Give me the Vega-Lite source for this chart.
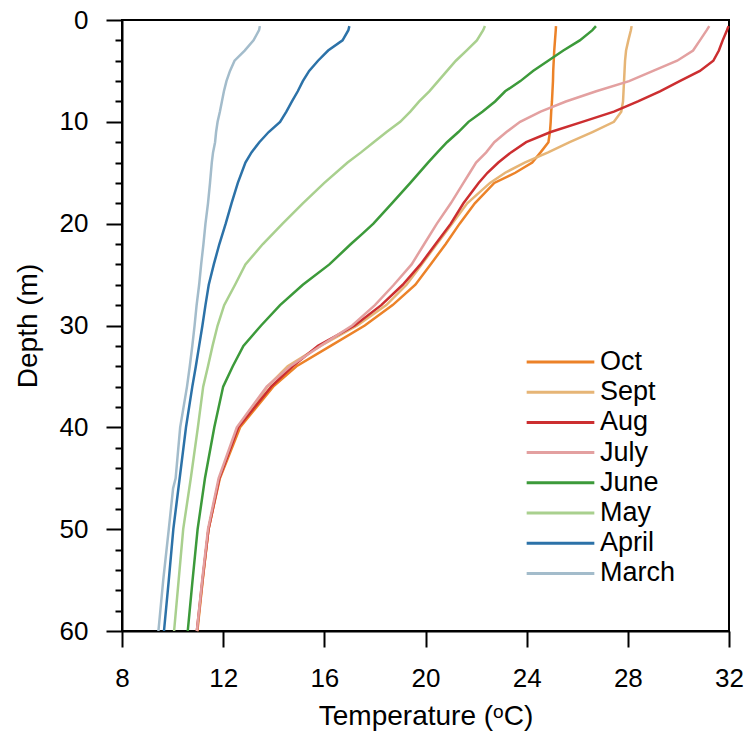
{
  "$schema": "https://vega.github.io/schema/vega-lite/v6.json",
  "width": 607,
  "height": 611,
  "autosize": "none",
  "padding": {"left": 122, "top": 20, "right": 22, "bottom": 104},
  "background": "white",
  "config": {
    "font": "Liberation Sans",
    "view": {"stroke": "#000", "strokeWidth": 2},
    "axis": {
      "domainColor": "#000", "domainWidth": 2, "tickColor": "#000", "tickWidth": 2,
      "labelColor": "#000", "titleColor": "#000", "labelFontSize": 26, "titleFontSize": 28,
      "titleFontWeight": "normal", "grid": false, "labelFlush": false, "labelOverlap": false
    },
    "legend": {
      "orient": "none", "legendX": 403, "legendY": 327, "symbolType": "stroke",
      "symbolSize": 4580, "symbolStrokeWidth": 3, "labelFontSize": 27, "labelColor": "#000",
      "labelOffset": 4, "clipHeight": 30, "rowPadding": 0.2
    }
  },
  "data": {"values": [
    {"m":"Oct","d":0.6,"t":25.16},{"m":"Oct","d":1,"t":25.15},{"m":"Oct","d":2,"t":25.12},{"m":"Oct","d":3,"t":25.09},{"m":"Oct","d":4,"t":25.07},{"m":"Oct","d":5,"t":25.05},{"m":"Oct","d":6,"t":25.04},{"m":"Oct","d":7,"t":25.02},{"m":"Oct","d":8,"t":25.0},{"m":"Oct","d":9,"t":24.97},{"m":"Oct","d":10,"t":24.95},{"m":"Oct","d":11,"t":24.92},{"m":"Oct","d":12,"t":24.86},{"m":"Oct","d":13,"t":24.55},{"m":"Oct","d":14,"t":24.22},{"m":"Oct","d":15,"t":23.55},{"m":"Oct","d":16,"t":22.72},{"m":"Oct","d":18,"t":21.95},{"m":"Oct","d":20,"t":21.35},{"m":"Oct","d":22,"t":20.8},{"m":"Oct","d":24,"t":20.2},{"m":"Oct","d":26,"t":19.6},{"m":"Oct","d":28,"t":18.7},{"m":"Oct","d":30,"t":17.6},{"m":"Oct","d":32,"t":16.25},{"m":"Oct","d":34,"t":14.9},{"m":"Oct","d":36,"t":13.98},{"m":"Oct","d":40,"t":12.67},{"m":"Oct","d":45,"t":11.87},{"m":"Oct","d":50,"t":11.42},{"m":"Oct","d":55,"t":11.19},{"m":"Oct","d":60,"t":10.98},
    {"m":"Sept","d":0.6,"t":28.15},{"m":"Sept","d":1,"t":28.12},{"m":"Sept","d":2,"t":28.02},{"m":"Sept","d":3,"t":27.93},{"m":"Sept","d":4,"t":27.89},{"m":"Sept","d":5,"t":27.87},{"m":"Sept","d":6,"t":27.85},{"m":"Sept","d":7,"t":27.83},{"m":"Sept","d":8,"t":27.81},{"m":"Sept","d":9,"t":27.74},{"m":"Sept","d":10,"t":27.45},{"m":"Sept","d":11,"t":26.6},{"m":"Sept","d":12,"t":25.7},{"m":"Sept","d":13,"t":24.85},{"m":"Sept","d":14,"t":23.92},{"m":"Sept","d":15,"t":23.15},{"m":"Sept","d":16,"t":22.55},{"m":"Sept","d":18,"t":21.65},{"m":"Sept","d":20,"t":21.05},{"m":"Sept","d":22,"t":20.45},{"m":"Sept","d":24,"t":19.85},{"m":"Sept","d":26,"t":19.25},{"m":"Sept","d":28,"t":18.45},{"m":"Sept","d":30,"t":17.3},{"m":"Sept","d":32,"t":15.85},{"m":"Sept","d":34,"t":14.55},{"m":"Sept","d":36,"t":13.75},{"m":"Sept","d":40,"t":12.6},{"m":"Sept","d":45,"t":11.85},{"m":"Sept","d":50,"t":11.42},{"m":"Sept","d":55,"t":11.19},{"m":"Sept","d":60,"t":10.97},
    {"m":"Aug","d":0.6,"t":31.98},{"m":"Aug","d":1,"t":31.92},{"m":"Aug","d":2,"t":31.75},{"m":"Aug","d":3,"t":31.6},{"m":"Aug","d":4,"t":31.38},{"m":"Aug","d":5,"t":30.85},{"m":"Aug","d":6,"t":30.05},{"m":"Aug","d":7,"t":29.27},{"m":"Aug","d":8,"t":28.4},{"m":"Aug","d":9,"t":27.45},{"m":"Aug","d":10,"t":26.2},{"m":"Aug","d":11,"t":24.95},{"m":"Aug","d":12,"t":23.98},{"m":"Aug","d":13,"t":23.38},{"m":"Aug","d":14,"t":22.88},{"m":"Aug","d":15,"t":22.45},{"m":"Aug","d":16,"t":22.1},{"m":"Aug","d":18,"t":21.5},{"m":"Aug","d":20,"t":21.0},{"m":"Aug","d":22,"t":20.4},{"m":"Aug","d":24,"t":19.8},{"m":"Aug","d":26,"t":19.1},{"m":"Aug","d":28,"t":18.25},{"m":"Aug","d":30,"t":17.2},{"m":"Aug","d":32,"t":15.75},{"m":"Aug","d":34,"t":14.75},{"m":"Aug","d":36,"t":13.9},{"m":"Aug","d":40,"t":12.6},{"m":"Aug","d":45,"t":11.85},{"m":"Aug","d":50,"t":11.42},{"m":"Aug","d":55,"t":11.18},{"m":"Aug","d":60,"t":10.96},
    {"m":"July","d":0.6,"t":31.22},{"m":"July","d":1,"t":31.12},{"m":"July","d":2,"t":30.85},{"m":"July","d":3,"t":30.58},{"m":"July","d":4,"t":29.95},{"m":"July","d":5,"t":29.0},{"m":"July","d":6,"t":28.05},{"m":"July","d":7,"t":26.75},{"m":"July","d":8,"t":25.55},{"m":"July","d":9,"t":24.55},{"m":"July","d":10,"t":23.74},{"m":"July","d":11,"t":23.2},{"m":"July","d":12,"t":22.72},{"m":"July","d":13,"t":22.4},{"m":"July","d":14,"t":22.0},{"m":"July","d":15,"t":21.75},{"m":"July","d":16,"t":21.5},{"m":"July","d":18,"t":21.0},{"m":"July","d":20,"t":20.45},{"m":"July","d":22,"t":19.95},{"m":"July","d":24,"t":19.45},{"m":"July","d":26,"t":18.75},{"m":"July","d":28,"t":18.0},{"m":"July","d":30,"t":17.1},{"m":"July","d":32,"t":15.85},{"m":"July","d":34,"t":14.65},{"m":"July","d":36,"t":13.72},{"m":"July","d":40,"t":12.54},{"m":"July","d":45,"t":11.82},{"m":"July","d":50,"t":11.4},{"m":"July","d":55,"t":11.17},{"m":"July","d":60,"t":10.96},
    {"m":"June","d":0.6,"t":26.74},{"m":"June","d":1,"t":26.6},{"m":"June","d":2,"t":26.1},{"m":"June","d":3,"t":25.45},{"m":"June","d":4,"t":24.85},{"m":"June","d":5,"t":24.25},{"m":"June","d":6,"t":23.75},{"m":"June","d":7,"t":23.15},{"m":"June","d":8,"t":22.75},{"m":"June","d":9,"t":22.25},{"m":"June","d":10,"t":21.7},{"m":"June","d":11,"t":21.3},{"m":"June","d":12,"t":20.85},{"m":"June","d":13,"t":20.47},{"m":"June","d":14,"t":20.1},{"m":"June","d":16,"t":19.4},{"m":"June","d":18,"t":18.67},{"m":"June","d":20,"t":17.94},{"m":"June","d":21,"t":17.5},{"m":"June","d":22,"t":17.05},{"m":"June","d":24,"t":16.2},{"m":"June","d":26,"t":15.15},{"m":"June","d":28,"t":14.25},{"m":"June","d":30,"t":13.5},{"m":"June","d":32,"t":12.8},{"m":"June","d":34,"t":12.38},{"m":"June","d":36,"t":12.0},{"m":"June","d":40,"t":11.65},{"m":"June","d":45,"t":11.28},{"m":"June","d":50,"t":10.99},{"m":"June","d":55,"t":10.79},{"m":"June","d":60,"t":10.6},
    {"m":"May","d":0.6,"t":22.35},{"m":"May","d":1,"t":22.28},{"m":"May","d":2,"t":22.03},{"m":"May","d":3,"t":21.62},{"m":"May","d":4,"t":21.2},{"m":"May","d":5,"t":20.85},{"m":"May","d":6,"t":20.5},{"m":"May","d":7,"t":20.15},{"m":"May","d":8,"t":19.75},{"m":"May","d":9,"t":19.4},{"m":"May","d":10,"t":19.0},{"m":"May","d":11,"t":18.46},{"m":"May","d":12,"t":17.95},{"m":"May","d":13,"t":17.45},{"m":"May","d":14,"t":16.92},{"m":"May","d":16,"t":16.0},{"m":"May","d":18,"t":15.15},{"m":"May","d":20,"t":14.35},{"m":"May","d":22,"t":13.57},{"m":"May","d":24,"t":12.88},{"m":"May","d":26,"t":12.47},{"m":"May","d":28,"t":12.04},{"m":"May","d":30,"t":11.78},{"m":"May","d":32,"t":11.58},{"m":"May","d":34,"t":11.4},{"m":"May","d":36,"t":11.21},{"m":"May","d":40,"t":11.0},{"m":"May","d":45,"t":10.72},{"m":"May","d":50,"t":10.42},{"m":"May","d":55,"t":10.24},{"m":"May","d":60,"t":10.06},
    {"m":"April","d":0.6,"t":16.99},{"m":"April","d":1,"t":16.95},{"m":"April","d":2,"t":16.72},{"m":"April","d":3,"t":16.15},{"m":"April","d":4,"t":15.75},{"m":"April","d":5,"t":15.4},{"m":"April","d":6,"t":15.15},{"m":"April","d":7,"t":14.95},{"m":"April","d":8,"t":14.72},{"m":"April","d":9,"t":14.5},{"m":"April","d":10,"t":14.25},{"m":"April","d":11,"t":13.8},{"m":"April","d":12,"t":13.43},{"m":"April","d":13,"t":13.12},{"m":"April","d":14,"t":12.88},{"m":"April","d":16,"t":12.58},{"m":"April","d":18,"t":12.33},{"m":"April","d":20,"t":12.1},{"m":"April","d":22,"t":11.85},{"m":"April","d":24,"t":11.63},{"m":"April","d":26,"t":11.43},{"m":"April","d":28,"t":11.3},{"m":"April","d":30,"t":11.18},{"m":"April","d":32,"t":11.05},{"m":"April","d":34,"t":10.92},{"m":"April","d":36,"t":10.78},{"m":"April","d":40,"t":10.53},{"m":"April","d":45,"t":10.28},{"m":"April","d":50,"t":10.03},{"m":"April","d":55,"t":9.85},{"m":"April","d":60,"t":9.66},
    {"m":"March","d":0.6,"t":13.45},{"m":"March","d":1,"t":13.42},{"m":"March","d":2,"t":13.2},{"m":"March","d":3,"t":12.85},{"m":"March","d":4,"t":12.45},{"m":"March","d":5,"t":12.27},{"m":"March","d":6,"t":12.13},{"m":"March","d":7,"t":12.03},{"m":"March","d":8,"t":11.95},{"m":"March","d":9,"t":11.87},{"m":"March","d":10,"t":11.78},{"m":"March","d":11,"t":11.72},{"m":"March","d":12,"t":11.68},{"m":"March","d":13,"t":11.6},{"m":"March","d":14,"t":11.55},{"m":"March","d":16,"t":11.48},{"m":"March","d":18,"t":11.4},{"m":"March","d":20,"t":11.3},{"m":"March","d":22,"t":11.22},{"m":"March","d":24,"t":11.13},{"m":"March","d":26,"t":11.05},{"m":"March","d":28,"t":10.95},{"m":"March","d":30,"t":10.87},{"m":"March","d":32,"t":10.78},{"m":"March","d":34,"t":10.68},{"m":"March","d":36,"t":10.57},{"m":"March","d":40,"t":10.3},{"m":"March","d":45,"t":10.12},{"m":"March","d":46,"t":10.02},{"m":"March","d":50,"t":9.85},{"m":"March","d":55,"t":9.63},{"m":"March","d":60,"t":9.44}
  ]},
  "layer": [
    {
      "mark": {"type": "line", "opacity": 0},
      "encoding": {
        "x": {"field": "t", "type": "quantitative", "scale": {"domain": [8, 32], "nice": false, "zero": false},
              "axis": {"values": [8, 12, 16, 20, 24, 28, 32], "tickSize": 16, "labelPadding": 18, "title": "Temperature (ᵒC)", "titlePadding": 11}},
        "y": {"field": "d", "type": "quantitative", "scale": {"domain": [0, 60], "reverse": true, "nice": false, "zero": false},
              "axis": {"orient": "left", "values": [2, 4, 6, 8, 12, 14, 16, 18, 22, 24, 26, 28, 32, 34, 36, 38, 42, 44, 46, 48, 52, 54, 56, 58], "tickSize": 7, "labels": false, "domain": false, "title": null}},
        "detail": {"field": "m"},
        "order": {"field": "d", "type": "quantitative"}
      }
    },
    {
      "mark": {"type": "line", "strokeWidth": 2.5},
      "encoding": {
        "x": {"field": "t", "type": "quantitative", "scale": {"domain": [8, 32], "nice": false, "zero": false},
              "axis": {"values": [8, 12, 16, 20, 24, 28, 32], "tickSize": 16, "labelPadding": 18, "title": "Temperature (ᵒC)", "titlePadding": 11}},
        "y": {"field": "d", "type": "quantitative", "scale": {"domain": [0, 60], "reverse": true, "nice": false, "zero": false},
              "axis": {"orient": "left", "values": [0, 10, 20, 30, 40, 50, 60], "tickSize": 16, "labelPadding": 18, "title": "Depth (m)", "titlePadding": 17}},
        "color": {"field": "m", "type": "nominal",
                  "scale": {"domain": ["Oct", "Sept", "Aug", "July", "June", "May", "April", "March"],
                            "range": ["#ec8228", "#e6b576", "#cc2e30", "#e3a0a0", "#3c9a3a", "#a9d08e", "#2c72a8", "#a3bccb"]},
                  "legend": {"title": null}},
        "order": {"field": "d", "type": "quantitative"}
      }
    }
  ],
  "resolve": {"axis": {"y": "independent"}}
}
